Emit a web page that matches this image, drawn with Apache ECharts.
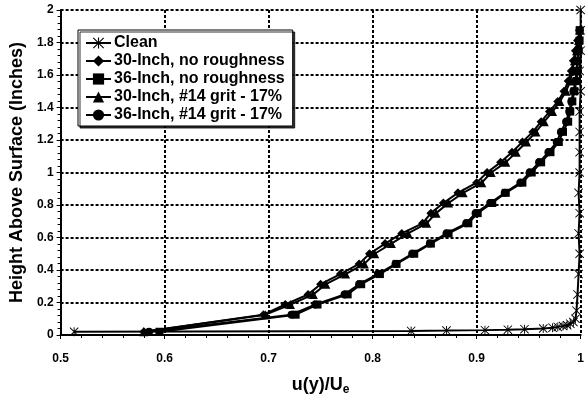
<!DOCTYPE html>
<html lang="en">

<head>
  <meta charset="UTF-8">
  <title>Boundary layer profiles</title>
  <style>
    * {
      margin: 0;
      padding: 0;
    }

    body {
      background-color: #fff;
    }

    #chart {
      width: 587px;
      height: 401px;
    }
  </style>
</head>

<body>
  <div id="chart"></div>
  <script src="https://cdn.jsdelivr.net/npm/echarts@6/dist/echarts.min.js"></script>
  <script>
    // heights of the rake probes (inches)
    const heights = [0.02, 0.125, 0.1875, 0.25, 0.3125, 0.375, 0.4375, 0.5, 0.5625, 0.625,
      0.6875, 0.75, 0.8125, 0.875, 0.9375, 1.0, 1.0625, 1.125, 1.1875, 1.25,
      1.3125, 1.375, 1.4375, 1.5, 1.5625, 1.625, 1.6875, 1.75, 1.8125, 1.875]

    const in30Smooth = [0.580, 0.695, 0.716, 0.738, 0.750, 0.769, 0.787, 0.797, 0.812, 0.828,
      0.848, 0.856, 0.868, 0.882, 0.900, 0.910, 0.923, 0.934, 0.944, 0.954,
      0.962, 0.970, 0.978, 0.984, 0.988, 0.991, 0.993, 0.995, 0.997, 0.999]
    const in36Smooth = [0.595, 0.726, 0.747, 0.776, 0.789, 0.807, 0.823, 0.840, 0.856, 0.873,
      0.892, 0.901, 0.915, 0.928, 0.944, 0.953, 0.962, 0.971, 0.979, 0.983,
      0.988, 0.990, 0.992, 0.994, 0.996, 0.997, 0.997, 0.998, 0.999, 0.999]
    const in30Grit = [0.580, 0.697, 0.721, 0.743, 0.755, 0.774, 0.792, 0.802, 0.818, 0.834,
      0.852, 0.861, 0.873, 0.887, 0.905, 0.914, 0.928, 0.938, 0.948, 0.957,
      0.965, 0.973, 0.980, 0.986, 0.990, 0.992, 0.994, 0.996, 0.998, 0.999]
    const in36Grit = [0.585, 0.722, 0.745, 0.773, 0.787, 0.805, 0.822, 0.838, 0.855, 0.871,
      0.890, 0.899, 0.913, 0.927, 0.942, 0.951, 0.960, 0.969, 0.977, 0.981,
      0.986, 0.989, 0.991, 0.993, 0.995, 0.996, 0.997, 0.998, 0.998, 0.999]

    // clean surface profile
    const cleanU = [0.513, 0.837, 0.871, 0.908, 0.930, 0.946, 0.964, 0.973, 0.978, 0.983,
      0.987, 0.990, 0.993, 0.995, 0.996, 0.997, 0.998, 0.999, 0.998, 0.999,
      0.998, 0.999, 0.999, 0.999, 0.999, 1.0, 0.999, 1.0, 1.0, 1.0]
    const cleanY = [0.02, 0.025, 0.027, 0.03, 0.033, 0.036, 0.04, 0.045, 0.05, 0.055,
      0.06, 0.07, 0.08, 0.1, 0.15, 0.25, 0.375, 0.5, 0.625, 0.75,
      0.875, 1.0, 1.125, 1.25, 1.375, 1.5, 1.625, 1.75, 1.875, 2.0]

    const names = ['Clean', '30-Inch, no roughness', '36-Inch, no roughness',
      '30-Inch, #14 grit - 17%', '36-Inch, #14 grit - 17%']

    // asterisk: vertical bar plus an X
    const asterisk = 'path://M9 0L11 0L11 20L9 20Z M1.4 0L20 18.6L18.6 20L0 1.4Z M18.6 0L20 1.4L1.4 20L0 18.6Z'

    const font = 'Arial, "Liberation Sans", sans-serif'

    function pairs(xs, ys) {
      return xs.map((x, i) => [x, ys[i]])
    }

    function line(name, data, symbol, size) {
      return {
        name: name,
        type: 'line',
        data: data,
        symbol: symbol,
        symbolSize: size,
        showAllSymbol: true,
        lineStyle: { color: '#000', width: 2 },
        itemStyle: { color: '#000' },
        emphasis: { disabled: true },
        animation: false
      }
    }

    const chart = echarts.init(document.getElementById('chart'))
    const gridLine = { show: true, lineStyle: { color: '#000', type: [3, 2], width: 2 } }

    chart.setOption({
      grid: { left: 54, right: 1, top: 10, bottom: 58 },
      legend: {
        orient: 'vertical',
        left: 78,
        top: 30,
        padding: [5, 8, 3, 7],
        itemGap: 2,
        itemWidth: 25,
        itemHeight: 14,
        backgroundColor: '#fff',
        borderColor: '#000',
        borderWidth: 1,
        borderRadius: 0,
        shadowColor: 'rgba(0,0,0,0.8)',
        shadowOffsetX: 2,
        shadowOffsetY: 2,
        shadowBlur: 0,
        data: names,
        textStyle: {
          fontFamily: font, fontWeight: 'bold', fontSize: 16, lineHeight: 16,
          color: '#000', padding: [0, 0, 0, -2]
        }
      },
      xAxis: {
        type: 'value',
        min: 0.5,
        max: 1,
        interval: 0.1,
        name: '{a|u(y)/U}{b|e}',
        nameLocation: 'middle',
        nameGap: 40,
        nameTextStyle: {
          rich: {
            a: { fontFamily: font, fontWeight: 'bold', fontSize: 18, color: '#000' },
            b: { fontFamily: font, fontWeight: 'bold', fontSize: 12, color: '#000', padding: [9, 0, 0, 0] }
          }
        },
        axisLine: { onZero: false, lineStyle: { color: '#000', width: 2 } },
        axisTick: { inside: false, length: 4, lineStyle: { color: '#000', width: 1 } },
        minorTick: { show: true, splitNumber: 5, length: 3, lineStyle: { color: '#000' } },
        axisLabel: { fontFamily: font, fontWeight: 'bold', fontSize: 12, color: '#000', margin: 18 },
        splitLine: gridLine
      },
      yAxis: {
        type: 'value',
        min: 0,
        max: 2,
        interval: 0.2,
        name: 'Height Above Surface (Inches)',
        nameLocation: 'middle',
        nameGap: 34,
        nameTextStyle: { fontFamily: font, fontWeight: 'bold', fontSize: 18, color: '#000' },
        axisLine: { show: true, onZero: false, lineStyle: { color: '#000', width: 2 } },
        axisTick: { show: true, inside: false, length: 4, lineStyle: { color: '#000', width: 1 } },
        minorTick: { show: true, splitNumber: 5, length: 3, lineStyle: { color: '#000' } },
        axisLabel: { fontFamily: font, fontWeight: 'bold', fontSize: 12, color: '#000', margin: 7 },
        splitLine: gridLine
      },
      series: [
        line(names[0], pairs(cleanU, cleanY), asterisk, 9),
        line(names[1], pairs(in30Smooth, heights), 'diamond', 9),
        line(names[2], pairs(in36Smooth, heights), 'rect', 8),
        line(names[3], pairs(in30Grit, heights), 'triangle', 9),
        line(names[4], pairs(in36Grit, heights), 'circle', 8)
      ]
    })
  </script>
</body>

</html>
